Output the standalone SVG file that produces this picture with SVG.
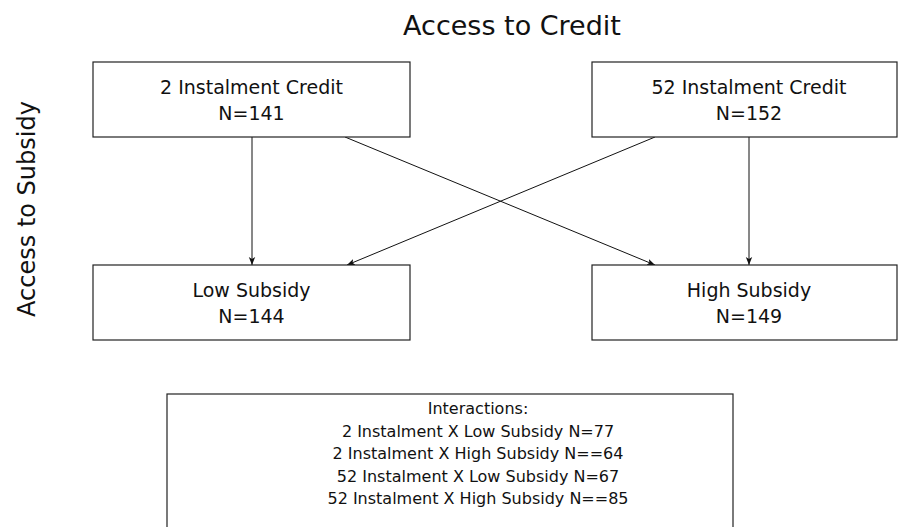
<svg xmlns="http://www.w3.org/2000/svg" width="898" height="527" viewBox="0 0 898 527">
<style>
.box{fill:#fff;stroke:#222;stroke-width:1.2}
.t{font-family:"DejaVu Sans",sans-serif;font-size:19px;fill:#111;text-anchor:middle}
.s{font-family:"DejaVu Sans",sans-serif;font-size:16px;fill:#111;text-anchor:middle}
.h{font-family:"DejaVu Sans",sans-serif;font-size:27px;fill:#111;text-anchor:middle}
.v{font-family:"DejaVu Sans",sans-serif;font-size:24px;fill:#111;text-anchor:middle}
.c{stroke:#111;stroke-width:1;fill:none;marker-end:url(#ah)}
</style>
<defs>
<marker id="ah" viewBox="0 0 10 10" refX="10" refY="5" markerWidth="8" markerHeight="8" markerUnits="userSpaceOnUse" orient="auto">
<path d="M0,1 L10,5 L0,9 L2.5,5 Z" fill="#111"/>
</marker>
</defs>
<rect width="898" height="527" fill="#fff"/>
<text class="h" x="512" y="35">Access to Credit</text>
<text class="v" transform="translate(35,209) rotate(-90)">Access to Subsidy</text>
<g id="connectors">
<line class="c" x1="252" y1="137" x2="252" y2="265"/>
<line class="c" x1="749" y1="137" x2="749" y2="265"/>
<line class="c" x1="345" y1="137" x2="655" y2="265"/>
<line class="c" x1="655" y1="137" x2="347" y2="265"/>
</g>
<g id="credit2">
<rect class="box" x="93" y="62" width="317" height="75"/>
<text class="t" x="251.5" y="94">2 Instalment Credit</text>
<text class="t" x="251.5" y="120">N=141</text>
</g>
<g id="credit52">
<rect class="box" x="592" y="62" width="305" height="75"/>
<text class="t" x="749" y="94">52 Instalment Credit</text>
<text class="t" x="749" y="120">N=152</text>
</g>
<g id="lowsub">
<rect class="box" x="93" y="265" width="317" height="75"/>
<text class="t" x="251.5" y="297">Low Subsidy</text>
<text class="t" x="251.5" y="323">N=144</text>
</g>
<g id="highsub">
<rect class="box" x="592" y="265" width="305" height="75"/>
<text class="t" x="749" y="297">High Subsidy</text>
<text class="t" x="749" y="323">N=149</text>
</g>
<g id="interactions">
<rect class="box" x="167" y="394" width="566" height="150"/>
<text class="s" x="478" y="414">Interactions:</text>
<text class="s" x="478" y="437">2 Instalment X Low Subsidy N=77</text>
<text class="s" x="478" y="459">2 Instalment X High Subsidy N==64</text>
<text class="s" x="478" y="482">52 Instalment X Low Subsidy N=67</text>
<text class="s" x="478" y="504">52 Instalment X High Subsidy N==85</text>
</g>
</svg>
